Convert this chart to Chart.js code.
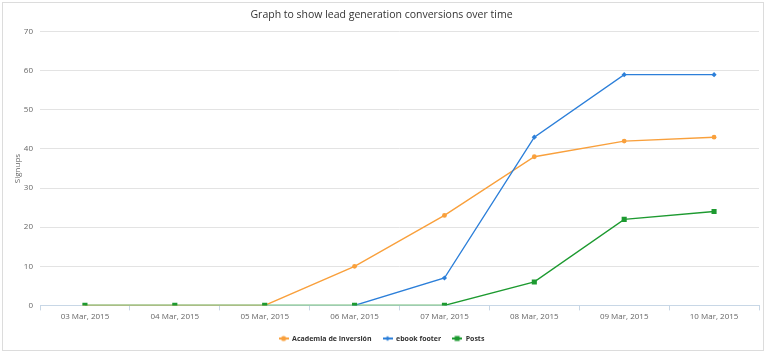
<!DOCTYPE html>
<html>
<head>
<meta charset="utf-8">
<script src="https://cdn.jsdelivr.net/npm/chart.js@4"></script>
<style>
    body { margin: 0; background: #fff; }
    #wrap {
        position: absolute; left: 2px; top: 2px;
        width: 760px; height: 347px;
        border: 1px solid #dcdcdc;
    }
</style>
</head>
<body>
<div id="wrap"><canvas id="chart" width="760" height="347"></canvas></div>
<script>
/* ===== DATA ===== */
const dates = ['03 Mar, 2015', '04 Mar, 2015', '05 Mar, 2015', '06 Mar, 2015',
               '07 Mar, 2015', '08 Mar, 2015', '09 Mar, 2015', '10 Mar, 2015'];
const academia = [0, 0, 0, 10, 23, 38, 42, 43];
const ebook = [null, null, null, 0, 7, 43, 59, 59];
const posts = [0, 0, 0, 0, 0, 6, 22, 24];
const yTicks = [0, 10, 20, 30, 40, 50, 60, 70];

const FONT = "'Open Sans', sans-serif";
const ORANGE = '#f9a03c';
const BLUE = '#2c7fd9';
const GREEN = '#1d9a30';
const GREEN_FLAT = '#74c07c';

/**
 * Build a small legend swatch: a line with the marker in the middle
 */
function makeSwatch(color, style) {
    const c = document.createElement('canvas');
    c.width = 10; c.height = 8;
    const g = c.getContext('2d');
    g.strokeStyle = color; g.fillStyle = color; g.lineWidth = 2;
    g.beginPath(); g.moveTo(0, 4); g.lineTo(10, 4); g.stroke();
    if (style === 'circle') {
        g.beginPath(); g.arc(5, 4, 2.6, 0, Math.PI * 2); g.fill();
    } else if (style === 'diamond') {
        g.beginPath(); g.moveTo(5, 1.5); g.lineTo(7.5, 4); g.lineTo(5, 6.5); g.lineTo(2.5, 4); g.closePath(); g.fill();
    } else {
        g.fillRect(2.5, 1.5, 5, 5);
    }
    return c;
}

const swatches = [makeSwatch(ORANGE, 'circle'), makeSwatch(BLUE, 'diamond'), makeSwatch(GREEN, 'square')];

new Chart(document.getElementById('chart'), {
    type: 'line',
    data: {
        labels: dates,
        datasets: [
            {
                label: 'Academia de Inversión', data: academia, order: 2,
                borderColor: ORANGE, backgroundColor: ORANGE, borderWidth: 1.4,
                pointStyle: 'circle', pointRadius: 2.4, pointBorderWidth: 0, tension: 0
            },
            {
                label: 'ebook footer', data: ebook, order: 1,
                borderColor: BLUE, backgroundColor: BLUE, borderWidth: 1.4,
                pointStyle: 'rectRot', pointRadius: 2.6, pointBorderWidth: 0, tension: 0
            },
            {
                label: 'Posts', data: posts, order: 0,
                borderColor: GREEN, backgroundColor: GREEN, borderWidth: 1.4,
                pointStyle: 'rect', pointRadius: 3.6, pointBorderWidth: 0, tension: 0,
                segment: {
                    // flat part along zero looks paler in the original
                    borderColor: ctx => (ctx.p0.parsed.y === 0 && ctx.p1.parsed.y === 0) ? GREEN_FLAT : undefined,
                    borderWidth: ctx => (ctx.p0.parsed.y === 0 && ctx.p1.parsed.y === 0) ? 2 : undefined
                }
            }
        ]
    },
    options: {
        responsive: false,
        animation: false,
        layout: { padding: { left: 0, right: 3, top: 0, bottom: -2 } },
        plugins: {
            title: {
                display: true,
                text: 'Graph to show lead generation conversions over time',
                color: '#333',
                font: { family: FONT, size: 10.5, weight: 'normal' },
                padding: { top: 6, bottom: 10 }
            },
            legend: {
                position: 'bottom',
                labels: {
                    usePointStyle: true,
                    pointStyleWidth: 10,
                    boxHeight: 8,
                    color: '#333',
                    padding: 11,
                    font: { family: FONT, size: 7, weight: 'bold' },
                    sort: (a, b) => a.datasetIndex - b.datasetIndex,
                    generateLabels: function(chart) {
                        return chart.data.datasets.map((ds, i) => ({
                            text: ds.label,
                            pointStyle: swatches[i],
                            fillStyle: ds.borderColor,
                            strokeStyle: ds.borderColor,
                            fontColor: '#333',
                            datasetIndex: i,
                            hidden: false
                        }));
                    }
                }
            },
            tooltip: { enabled: false }
        },
        scales: {
            x: {
                offset: true,
                grid: { offset: true, drawOnChartArea: false, drawTicks: true, tickLength: 5, color: '#c8d7e6' },
                border: { color: '#c8d7e6' },
                ticks: { color: '#666', font: { family: FONT, size: 8 }, padding: 2, maxRotation: 0 }
            },
            y: {
                min: 0, max: 70,
                afterBuildTicks: axis => { axis.ticks = yTicks.map(v => ({ value: v })); },
                afterFit: axis => { axis.width = 37; },
                grid: { color: '#e3e3e3', drawTicks: false },
                border: { display: false },
                ticks: { color: '#666', font: { family: FONT, size: 8 }, padding: 7 },
                title: {
                    display: true, text: 'Signups', color: '#666',
                    font: { family: FONT, size: 8 }, padding: { top: 10, bottom: 0 }
                }
            }
        }
    }
});
</script>
</body>
</html>
